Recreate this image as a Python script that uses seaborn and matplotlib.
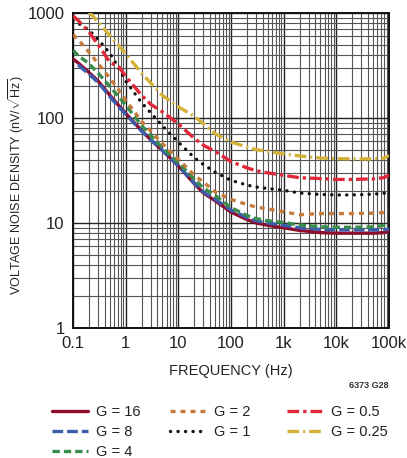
import numpy as np
import pandas as pd
import matplotlib
matplotlib.use("Agg")
import matplotlib.pyplot as plt
import seaborn as sns
from matplotlib.ticker import FixedLocator, FixedFormatter, LogLocator, NullFormatter

nan = np.nan
FREQ = [0.1, 0.125, 0.2, 0.3, 0.5, 0.75, 1, 2, 3, 5, 10, 20, 30, 50, 100, 200,
        300, 500, 1000, 2000, 5000, 10000, 20000, 50000, 80000, 100000]

G16 = [365, 335, 272, 225, 165, 130, 111, 76, 62, 49, 35, 23.7, 19.3, 16.3, 12.7, 10.8,
       10.0, 9.5, 9.0, 8.5, 8.1, 8.0, 8.0, 8.0, 8.1, 8.3]
G8 = [nan, 320, 262, 218, 160, 126, 109, 75, 62, 49, 35.2, 24, 19.7, 16.8, 13.3, 11.3,
      10.5, 10.0, 9.5, 9.0, 8.7, 8.6, 8.6, 8.6, 8.6, 8.8]
G4 = [444, 394, 330, 268, 200, 158, 133, 85, 68, 52, 37.5, 26.3, 21.5, 18.3, 14.0, 11.8,
      11.0, 10.5, 10.1, 9.6, 9.2, 9.1, 9.1, 9.2, 9.5, 10.0]
G2 = [620, 560, 425, 330, 240, 183, 148, 93, 75, 57, 40.5, 28.6, 24.5, 19.8, 16.8, 15.0,
      14.2, 13.6, 12.8, 12.0, 12.3, 12.3, 12.3, 12.4, 12.6, 13.0]
G1 = [840, 800, 690, 560, 415, 295, 225, 140, 112, 84, 59, 42, 36, 30.5, 25.5, 23,
      22, 21.3, 20.5, 19.3, 18.7, 18.5, 18.5, 18.8, 19.2, 19.7]
G05 = [940, 850, 660, 500, 340, 305, 250, 165, 135, 114, 88, 64, 55, 48, 38.5, 33.5,
       31.5, 30, 28.5, 27, 26.5, 26, 26, 26.3, 27, 28.6]
G025 = [nan, nan, 1030, 820, 610, 484, 410, 268, 215, 164, 128, 104, 88, 71, 59, 53,
        50, 48, 45.5, 43.5, 41.6, 41, 40.8, 40.8, 41.5, 44]

LABELS = ["G = 16", "G = 8", "G = 4", "G = 2", "G = 1", "G = 0.5", "G = 0.25"]
XTICKS = [0.1, 1, 10, 100, 1000, 10000, 100000]
XTICKLABELS = ["0.1", "1", "10", "100", "1k", "10k", "100k"]
YTICKS = [1, 10, 100, 1000]
YTICKLABELS = ["1", "10", "100", "1000"]

series = [G16, G8, G4, G2, G1, G05, G025]
colors = ["#8E0C2C", "#3A5DAE", "#3A8C4C", "#C57A3A", "#111111", "#E0283A", "#D4B23A"]
styles = ["-", (0, (3.2, 1.2)), (0, (2.2, 1.2)), (0, (1.5, 1.5)), (0, (0.05, 2.2)),
          (0, (3.5, 1.2, 1.0, 1.2)), (0, (3.5, 1.2, 0.6, 1.2))]

sns.set_theme(style="white")
FONT = ["Liberation Sans", "DejaVu Sans"]
plt.rcParams["font.family"] = FONT
plt.rcParams["mathtext.fontset"] = "custom"
plt.rcParams["mathtext.rm"] = "Liberation Sans"
plt.rcParams["mathtext.it"] = "Liberation Sans"

fig = plt.figure(figsize=(4.07, 4.58), dpi=100)
ax = fig.add_axes([73 / 407, 1 - 328 / 458, (389 - 73) / 407, (328 - 13) / 458])

for vals, lab, col, ls in zip(series, LABELS, colors, styles):
    df = pd.DataFrame({"f": FREQ, "v": vals}).dropna()
    sns.lineplot(data=df, x="f", y="v", ax=ax, color=col, lw=2.4, linestyle=ls,
                 dash_capstyle="round" if lab == "G = 1" else "butt",
                 label=lab, sort=False, estimator=None, legend=False, zorder=3)

ax.set_xscale("log")
ax.set_yscale("log")
ax.set_xlim(0.1, 100000)
ax.set_ylim(1, 1000)

ax.xaxis.set_major_locator(FixedLocator(XTICKS))
ax.xaxis.set_major_formatter(FixedFormatter(XTICKLABELS))
ax.yaxis.set_major_locator(FixedLocator(YTICKS))
ax.yaxis.set_major_formatter(FixedFormatter(YTICKLABELS))
ax.xaxis.set_minor_locator(LogLocator(base=10, subs=np.arange(2, 10), numticks=20))
ax.yaxis.set_minor_locator(LogLocator(base=10, subs=np.arange(2, 10), numticks=20))
ax.xaxis.set_minor_formatter(NullFormatter())
ax.yaxis.set_minor_formatter(NullFormatter())

ax.grid(True, which="major", color="#222222", lw=1.0, zorder=1)
ax.grid(True, which="minor", color="#555555", lw=0.8, zorder=1)
ax.tick_params(which="both", length=0, labelsize=12, colors="#222222", pad=6)
for s in ax.spines.values():
    s.set_color("#111111")
    s.set_linewidth(1.4)

ax.set_xlabel("FREQUENCY (Hz)", fontsize=10.5, color="#222222", labelpad=9)
ax.set_ylabel(r"VOLTAGE NOISE DENSITY (nV/$\sqrt{\mathrm{Hz}}$)", fontsize=9.0,
              color="#222222")
ax.yaxis.set_label_coords(-0.15, 0.455)

fig.text(389 / 407, 1 - 385 / 458, "6373 G28", ha="right", va="center",
         fontsize=6.5, fontweight="bold", color="#333333")

handles = ax.get_lines()[:7]
groups = [(0, 3, 52), (3, 5, 170), (5, 7, 287)]
for a, b, x0 in groups:
    leg = fig.legend(handles=handles[a:b], labels=LABELS[a:b], ncol=1, loc="upper left",
                     bbox_to_anchor=(x0 / 407, 1 - 405 / 458), frameon=False,
                     fontsize=10.5, handlelength=2.45, handletextpad=0.6,
                     labelspacing=0.42, borderpad=0, borderaxespad=0)
    for t in leg.get_texts():
        t.set_color("#222222")

fig.savefig("out.png", dpi=100)
